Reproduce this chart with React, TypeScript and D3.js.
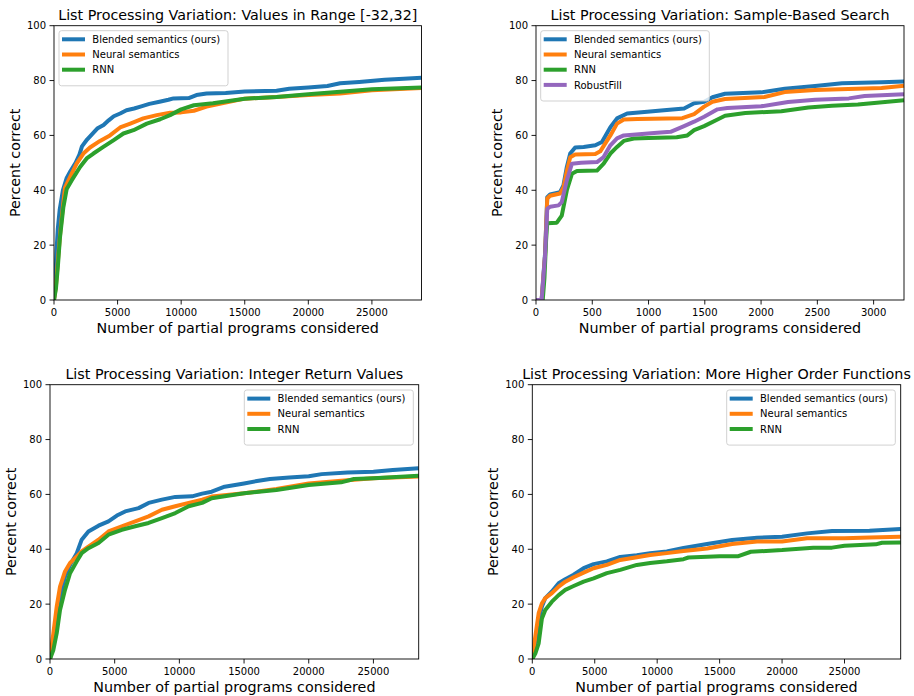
import React from "react";
import * as d3 from "d3";

type Pt = [number, number];

const COLORS = ["#1f77b4", "#ff7f0e", "#2ca02c", "#9467bd"];
const NAMES = ["Blended semantics (ours)", "Neural semantics", "RNN", "RobustFill"];

const titles = [
  "List Processing Variation: Values in Range [-32,32]",
  "List Processing Variation: Sample-Based Search",
  "List Processing Variation: Integer Return Values",
  "List Processing Variation: More Higher Order Functions",
];
const xMaxes = [28900, 3270, 28500, 29500];
const xTickSets = [
  [0, 5000, 10000, 15000, 20000, 25000],
  [0, 500, 1000, 1500, 2000, 2500, 3000],
  [0, 5000, 10000, 15000, 20000, 25000],
  [0, 5000, 10000, 15000, 20000, 25000],
];
const yTicks = [0, 20, 40, 60, 80, 100];

// Panel 1: Values in Range [-32,32]
const blue1: Pt[] = [[0,0],[100,6],[200,18],[300,26],[450,33],[700,40],[1000,44.5],[1300,47],[1700,50],[2000,53],[2200,56],[2600,58.5],[3000,60.5],[3400,62.5],[3900,63.8],[4300,65.5],[4700,67],[5200,68],[5700,69.2],[6300,69.8],[6800,70.5],[7500,71.5],[8300,72.3],[9000,73],[9400,73.5],[10600,73.6],[11200,74.7],[12000,75.3],[13500,75.5],[15000,76],[17500,76.3],[18500,77],[20000,77.5],[21500,78],[22500,79],[24000,79.5],[26000,80.3],[27500,80.7],[28900,81]];
const orange1: Pt[] = [[0,0],[150,5],[300,14],[500,25],[700,34],[865,41],[1260,44.8],[1780,49.7],[2310,53.4],[2830,55.6],[3620,58],[4400,60],[5200,62.9],[6000,64.3],[7020,66.2],[8080,67.4],[9130,68.3],[10000,68.4],[11000,69],[12000,70.5],[13500,72],[15000,73.4],[17500,74],[20000,74.7],[22500,75.3],[25000,76.5],[28900,77.3]];
const green1: Pt[] = [[0,0],[150,4],[300,12],[470,22.8],[735,33.8],[1000,40.5],[1390,43.6],[2050,48.5],[2570,51.6],[3100,53.4],[3880,55.8],[4670,58.2],[5460,60.7],[6250,61.9],[7300,64.3],[8350,65.9],[9130,67.4],[10000,69.5],[11000,71],[12500,71.7],[15000,73.4],[17500,74],[20000,75],[25000,76.8],[28900,77.5]];

// Panel 2: Sample-Based Search
const blue2: Pt[] = [[0,0],[50,0],[60,5.7],[80,16.7],[100,37.5],[125,38.5],[214,39.3],[244,41.8],[274,48.5],[304,53.4],[348,55.6],[423,55.8],[527,56.4],[586,57.6],[661,63],[720,66.2],[810,68],[988,68.6],[1137,69.2],[1316,69.8],[1405,71.7],[1494,72.3],[1568,73.9],[1680,75.2],[2000,75.7],[2210,77],[2480,78],[2720,79],[3070,79.4],[3270,79.7]];
const orange2: Pt[] = [[0,0],[50,0],[60,5],[80,16],[100,37],[125,38],[214,38.8],[244,41],[274,47],[304,52],[348,53],[527,53.2],[571,54.2],[661,60],[720,64.3],[780,65.8],[900,66],[1300,66.3],[1405,67.8],[1494,70.5],[1568,72.3],[1680,73.3],[2030,74],[2210,75.8],[2480,76.6],[3070,77.3],[3270,78.1]];
const green2: Pt[] = [[0,0],[60,0],[75,8],[90,22],[100,28],[185,28.2],[229,30.8],[274,40],[319,46],[364,47],[542,47.2],[601,49.7],[661,53.4],[720,55.8],[780,58],[869,58.9],[1000,59.1],[1250,59.3],[1345,60],[1405,61.9],[1494,63.4],[1613,65.8],[1680,67.2],[1860,68.2],[2180,68.8],[2420,70.2],[2630,70.8],[2860,71.3],[3270,72.8]];
const purple2: Pt[] = [[0,0],[50,0],[60,5],[80,16],[100,33.2],[125,34],[200,34.5],[229,35.7],[274,43.6],[319,49.7],[400,50],[542,50.3],[601,52.1],[661,56.4],[720,58.9],[780,60],[1077,61],[1196,61.3],[1316,63.4],[1405,65],[1494,66.8],[1613,69.5],[1700,70],[2000,70.6],[2240,72.2],[2480,73],[2780,73.5],[2920,74.4],[3270,75]];

// Panel 3: Integer Return Values
const blue3: Pt[] = [[0,0],[260,5.7],[520,14.2],[775,22.8],[1160,30],[1550,34.3],[2070,38.6],[2450,43.5],[2970,46.5],[3750,48.6],[4520,50.2],[5170,52.3],[5810,53.8],[6850,55],[7620,56.9],[8650,58.1],[9690,59.1],[10980,59.3],[11760,60.3],[12500,61],[13500,62.8],[15000,64],[16000,64.9],[17000,65.6],[18500,66.2],[20000,66.6],[21000,67.4],[23000,68],[25000,68.3],[26500,68.9],[28500,69.5]];
const orange3: Pt[] = [[0,0],[260,9.4],[520,19.1],[775,26.4],[1160,31.9],[1550,35],[2070,37.4],[2450,39.2],[2970,41],[3750,43.5],[4520,46.5],[5550,48.4],[6590,50.2],[7620,52],[8650,54.4],[9690,55.7],[10720,56.9],[11760,58.1],[12500,59.2],[15000,60.4],[17500,62],[20000,64],[22500,65],[25000,65.9],[28500,66.5]];
const green3: Pt[] = [[0,0],[260,3.3],[520,9.4],[775,17.9],[1160,25.2],[1550,31.3],[2070,35.6],[2450,38.6],[2970,40.4],[3750,42.3],[4520,45.3],[5550,47.1],[6590,48.4],[7620,49.6],[8650,51.4],[9690,53.2],[10720,55.7],[11760,56.9],[12500,58.6],[15000,60.4],[17500,61.6],[20000,63.4],[22500,64.4],[23500,65.6],[25000,65.9],[28500,66.8]];

// Panel 4: More Higher Order Functions
const blue4: Pt[] = [[0,0],[240,4.5],[510,14.2],[770,19.1],[1040,22.2],[1570,24.6],[2110,27.6],[2640,29.1],[3310,30.7],[4110,33.1],[4910,34.6],[5970,35.6],[7040,37.2],[8370,37.8],[9440,38.6],[10770,39.2],[12110,40.5],[14000,41.9],[16000,43.4],[18000,44.2],[20000,44.6],[22000,45.8],[24000,46.7],[27000,46.8],[29500,47.4]];
const orange4: Pt[] = [[0,0],[240,8.2],[510,16.7],[770,20.3],[1040,22.2],[1570,24],[2110,26.4],[2640,28.2],[3310,29.8],[4110,31.5],[4910,33.1],[5970,34.3],[7040,36.1],[8370,37.1],[9440,37.9],[10770,38.6],[12110,39.4],[14000,40.3],[16000,41.9],[18000,42.8],[20000,42.8],[22000,44],[25000,44],[27000,44.3],[29500,44.6]];
const green4: Pt[] = [[0,0],[240,2],[510,5.7],[770,14.8],[1040,17.9],[1570,20.9],[2110,23.3],[2640,25.2],[3310,26.6],[4110,28.2],[4910,29.4],[5970,31.3],[7040,32.5],[8370,34.3],[9440,35],[10770,35.6],[12110,36.4],[12500,37],[15000,37.5],[16500,37.5],[17500,39.1],[20000,39.7],[22500,40.6],[24000,40.6],[25000,41.3],[27500,41.8],[28000,42.4],[29500,42.5]];

const panelSeries: Pt[][][] = [
  [blue1, orange1, green1],
  [blue2, orange2, green2, purple2],
  [blue3, orange3, green3],
  [blue4, orange4, green4],
];

// layout: [left, top, width, height], legend position [x, y]
const boxes = [
  { l: 54, t: 25.7, w: 367.5, h: 274.3, lx: 59, ly: 30.7, lw: 169 },
  { l: 536, t: 25.7, w: 368, h: 274.3, lx: 540.7, ly: 30.7, lw: 168.6 },
  { l: 50, t: 384.7, w: 368.7, h: 274.3, lx: 244.3, ly: 390, lw: 169 },
  { l: 532.3, t: 384.7, w: 368.4, h: 274.3, lx: 726.7, ly: 390, lw: 168.6 },
];

const FONT = "DejaVu Sans, sans-serif";

function Panel({ idx }: { idx: number }) {
  const b = boxes[idx];
  const x = d3.scaleLinear().domain([0, xMaxes[idx]]).range([b.l, b.l + b.w]);
  const y = d3.scaleLinear().domain([0, 100]).range([b.t + b.h, b.t]);
  const line = d3
    .line<Pt>()
    .x((d) => x(d[0]))
    .y((d) => y(d[1]));
  const series = panelSeries[idx];
  const clipId = `clip${idx}`;
  const rowH = 15.2;
  const legH = series.length * rowH + 3.5;
  return (
    <g>
      <defs>
        <clipPath id={clipId}>
          <rect x={b.l} y={b.t - 3} width={b.w + 3} height={b.h + 3} />
        </clipPath>
      </defs>
      <g clipPath={`url(#${clipId})`}>
        {series.map((s, i) => (
          <path
            key={i}
            d={line(s) || ""}
            fill="none"
            stroke={COLORS[i]}
            strokeWidth={4}
            strokeLinejoin="round"
          />
        ))}
      </g>
      <rect x={b.l} y={b.t} width={b.w} height={b.h} fill="none" stroke="#000" strokeWidth={0.9} />
      {/* x ticks */}
      {xTickSets[idx].map((t) => (
        <g key={`x${t}`}>
          <line x1={x(t)} x2={x(t)} y1={b.t + b.h} y2={b.t + b.h + 4.5} stroke="#000" strokeWidth={0.9} />
          <text x={x(t)} y={b.t + b.h + 16} textAnchor="middle" fontSize={10} fontFamily={FONT} fill="#000">
            {t}
          </text>
        </g>
      ))}
      {yTicks.map((t) => (
        <g key={`y${t}`}>
          <line x1={b.l - 4.5} x2={b.l} y1={y(t)} y2={y(t)} stroke="#000" strokeWidth={0.9} />
          <text x={b.l - 8} y={y(t) + 3.6} textAnchor="end" fontSize={10} fontFamily={FONT} fill="#000">
            {t}
          </text>
        </g>
      ))}
      <text x={b.l + b.w / 2} y={b.t - 5.5} textAnchor="middle" fontSize={14.3} fontFamily={FONT} fill="#000">
        {titles[idx]}
      </text>
      <text x={b.l + b.w / 2} y={b.t + b.h + 33} textAnchor="middle" fontSize={14.3} fontFamily={FONT} fill="#000">
        Number of partial programs considered
      </text>
      <text
        transform={`translate(${b.l - 39 + 5},${b.t + b.h / 2}) rotate(-90)`}
        textAnchor="middle"
        fontSize={14.3}
        fontFamily={FONT}
        fill="#000"
      >
        Percent correct
      </text>
      {/* legend */}
      <rect
        x={b.lx}
        y={b.ly}
        width={b.lw}
        height={legH + 6}
        rx={2.5}
        fill="#fff"
        fillOpacity={0.8}
        stroke="#cccccc"
        strokeWidth={0.9}
      />
      {series.map((_, i) => {
        const ry = b.ly + 8.6 + i * rowH;
        return (
          <g key={`lg${i}`}>
            <line x1={b.lx + 3} x2={b.lx + 26} y1={ry} y2={ry} stroke={COLORS[i]} strokeWidth={4} />
            <text x={b.lx + 33.3} y={ry + 3.6} fontSize={10} fontFamily={FONT} fill="#000">
              {NAMES[i]}
            </text>
          </g>
        );
      })}
    </g>
  );
}

export default function App() {
  return (
    <svg
      width={914}
      height={696}
      style={{ position: "absolute", left: 0, top: 0, background: "#fff" }}
    >
      <rect width={914} height={696} fill="#fff" />
      {[0, 1, 2, 3].map((i) => (
        <Panel key={i} idx={i} />
      ))}
    </svg>
  );
}
